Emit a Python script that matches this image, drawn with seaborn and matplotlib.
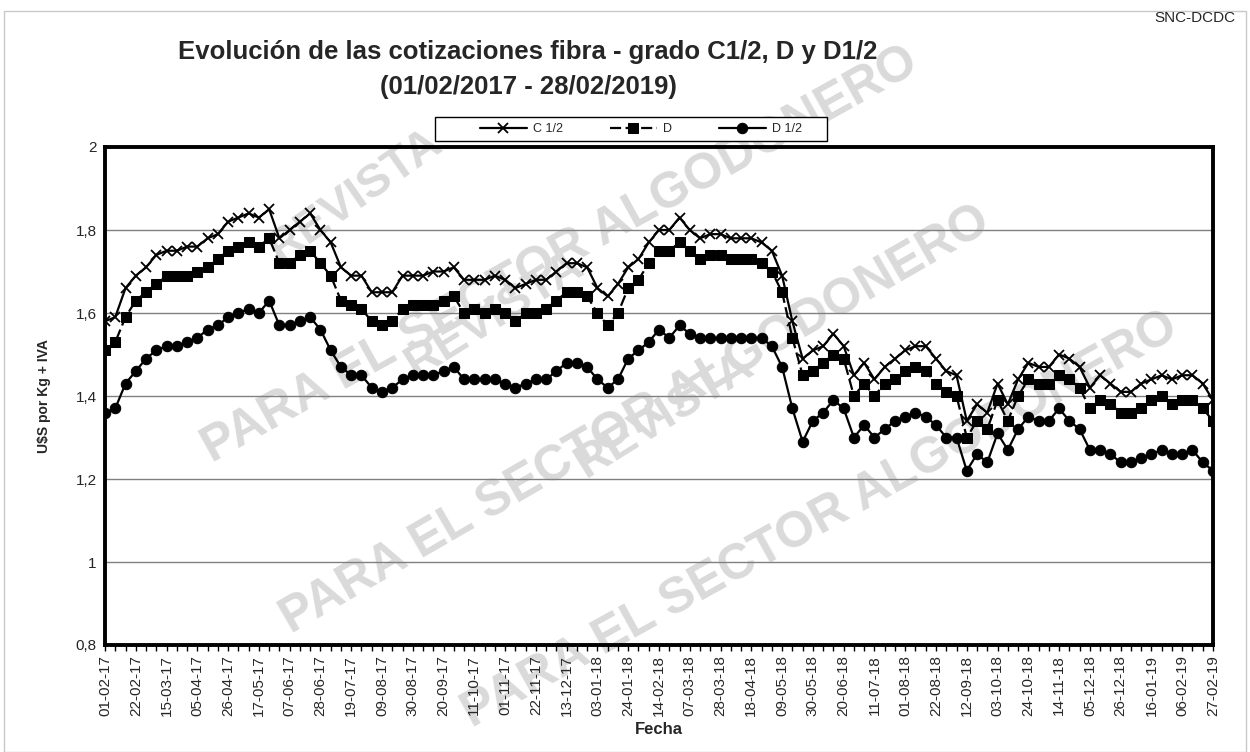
import numpy as np
import pandas as pd
import matplotlib
matplotlib.use("Agg")
import matplotlib.pyplot as plt
import seaborn as sns
from matplotlib.ticker import FuncFormatter, MultipleLocator
from matplotlib.patches import Rectangle

# ---------------- data ----------------
dates = pd.date_range("2017-02-01", "2019-02-27", freq="7D")
date_labels = [d.strftime("%d-%m-%y") for d in dates]

c_half = [1.58, 1.59, 1.66, 1.69, 1.71, 1.74, 1.75, 1.75, 1.76, 1.76, 1.78, 1.79, 1.82, 1.83, 1.84, 1.83, 1.85, 1.78,
          1.80, 1.82, 1.84, 1.80, 1.77, 1.71, 1.69, 1.69, 1.65, 1.65, 1.65, 1.69, 1.69, 1.69, 1.70, 1.70, 1.71, 1.68,
          1.68, 1.68, 1.69, 1.68, 1.66, 1.67, 1.68, 1.68, 1.70, 1.72, 1.72, 1.71, 1.66, 1.64, 1.67, 1.71, 1.73, 1.77,
          1.80, 1.80, 1.83, 1.80, 1.78, 1.79, 1.79, 1.78, 1.78, 1.78, 1.77, 1.75, 1.69, 1.58, 1.49, 1.51, 1.52, 1.55,
          1.52, 1.45, 1.48, 1.44, 1.47, 1.49, 1.51, 1.52, 1.52, 1.49, 1.46, 1.45, 1.34, 1.38, 1.36, 1.43, 1.38, 1.44,
          1.48, 1.47, 1.47, 1.50, 1.49, 1.47, 1.42, 1.45, 1.43, 1.41, 1.41, 1.43, 1.44, 1.45, 1.44, 1.45, 1.45, 1.43, 1.39]

d_grade = [1.51, 1.53, 1.59, 1.63, 1.65, 1.67, 1.69, 1.69, 1.69, 1.70, 1.71, 1.73, 1.75, 1.76, 1.77, 1.76, 1.78, 1.72,
           1.72, 1.74, 1.75, 1.72, 1.69, 1.63, 1.62, 1.61, 1.58, 1.57, 1.58, 1.61, 1.62, 1.62, 1.62, 1.63, 1.64, 1.60,
           1.61, 1.60, 1.61, 1.60, 1.58, 1.60, 1.60, 1.61, 1.63, 1.65, 1.65, 1.64, 1.60, 1.57, 1.60, 1.66, 1.68, 1.72,
           1.75, 1.75, 1.77, 1.75, 1.73, 1.74, 1.74, 1.73, 1.73, 1.73, 1.72, 1.70, 1.65, 1.54, 1.45, 1.46, 1.48, 1.50,
           1.49, 1.40, 1.43, 1.40, 1.43, 1.44, 1.46, 1.47, 1.46, 1.43, 1.41, 1.40, 1.30, 1.34, 1.32, 1.39, 1.34, 1.40,
           1.44, 1.43, 1.43, 1.45, 1.44, 1.42, 1.37, 1.39, 1.38, 1.36, 1.36, 1.37, 1.39, 1.40, 1.38, 1.39, 1.39, 1.37, 1.34]

d_half = [1.36, 1.37, 1.43, 1.46, 1.49, 1.51, 1.52, 1.52, 1.53, 1.54, 1.56, 1.57, 1.59, 1.60, 1.61, 1.60, 1.63, 1.57,
          1.57, 1.58, 1.59, 1.56, 1.51, 1.47, 1.45, 1.45, 1.42, 1.41, 1.42, 1.44, 1.45, 1.45, 1.45, 1.46, 1.47, 1.44,
          1.44, 1.44, 1.44, 1.43, 1.42, 1.43, 1.44, 1.44, 1.46, 1.48, 1.48, 1.47, 1.44, 1.42, 1.44, 1.49, 1.51, 1.53,
          1.56, 1.54, 1.57, 1.55, 1.54, 1.54, 1.54, 1.54, 1.54, 1.54, 1.54, 1.52, 1.47, 1.37, 1.29, 1.34, 1.36, 1.39,
          1.37, 1.30, 1.33, 1.30, 1.32, 1.34, 1.35, 1.36, 1.35, 1.33, 1.30, 1.30, 1.22, 1.26, 1.24, 1.31, 1.27, 1.32,
          1.35, 1.34, 1.34, 1.37, 1.34, 1.32, 1.27, 1.27, 1.26, 1.24, 1.24, 1.25, 1.26, 1.27, 1.26, 1.26, 1.27, 1.24, 1.22]

series_names = ["C 1/2", "D", "D 1/2"]
y_ticks = [0.8, 1.0, 1.2, 1.4, 1.6, 1.8, 2.0]

title_text = "Evolución de las cotizaciones fibra - grado C1/2, D y D1/2\n(01/02/2017 - 28/02/2019)"
wm_top = "REVISTA"
wm_bottom = "PARA EL SECTOR ALGODONERO"

# ---------------- style ----------------
sns.set_theme(style="white")
plt.rcParams["font.family"] = ["Liberation Sans", "DejaVu Sans"]

W, H = 1250, 752
fig = plt.figure(figsize=(12.5, 7.52), dpi=100)
ax = fig.add_axes([105 / W, 1 - 645 / H, 1108 / W, 498 / H])
ax.set_zorder(1)
ax.set_facecolor("none")

idx = np.arange(len(dates))
df = pd.DataFrame({"idx": idx, series_names[0]: c_half, series_names[1]: d_grade, series_names[2]: d_half})

# watermark (light stippled grey text in the reference), behind the chart
wm_style = dict(color="#dadada", fontweight="bold", ha="center", va="center",
                zorder=-1, transform=fig.transFigure)
for (xr, yr, rot) in [(355, 195, 35), (495, 315, 32), (665, 415, 32)]:
    fig.text(xr / W, 1 - yr / H, wm_top, rotation=rot, fontsize=34, **wm_style)
for (xr, yr, rot) in [(560, 255, 29), (635, 420, 30), (820, 520, 29)]:
    fig.text(xr / W, 1 - yr / H, wm_bottom, rotation=rot, fontsize=36, **wm_style)

sns.lineplot(data=df, x="idx", y=series_names[0], ax=ax, color="black", lw=1.6,
             marker="x", markersize=7.5, markeredgewidth=1.3, markeredgecolor="black", label=series_names[0])
sns.lineplot(data=df, x="idx", y=series_names[1], ax=ax, color="black", lw=1.6, linestyle=(0, (5, 2)),
             marker="s", markersize=7, markeredgecolor="black", markerfacecolor="black", label=series_names[1])
sns.lineplot(data=df, x="idx", y=series_names[2], ax=ax, color="black", lw=1.6,
             marker="o", markersize=7.5, markeredgecolor="black", markerfacecolor="black", label=series_names[2])

ax.set_xlim(0, len(dates) - 1)
ax.set_ylim(0.8, 2.0)
ax.set_yticks(y_ticks)
ax.yaxis.set_major_formatter(FuncFormatter(lambda v, p: f"{round(v, 1):g}".replace(".", ",")))
ax.grid(axis="y", color="#808080", lw=1)
ax.grid(axis="x", visible=False)

ax.set_xticks(idx[::3])
ax.set_xticklabels(date_labels[::3], rotation=90, fontsize=11)
ax.xaxis.set_minor_locator(MultipleLocator(1))
ax.tick_params(axis="x", which="both", direction="out", length=4, width=1, color="black", bottom=True)
ax.tick_params(axis="y", labelsize=11, length=0, pad=6)

for s in ax.spines.values():
    s.set_visible(True)
    s.set_color("black")
    s.set_linewidth(2.8)

ax.set_xlabel("Fecha", fontsize=12, fontweight="bold", labelpad=4)
ax.set_ylabel(r"U\$S por Kg + IVA", fontsize=10, fontweight="bold", labelpad=18)

# legend: entries without own frame, plus a box drawn like the reference's
leg = ax.legend(ncol=3, loc="center", bbox_to_anchor=(641 / W, 1 - 129 / H),
                bbox_transform=fig.transFigure, frameon=False, fontsize=9, handlelength=3.8,
                columnspacing=3.7, handletextpad=0.5, borderpad=0.2)
leg.set_zorder(6)
ax.add_patch(Rectangle((435 / W, 1 - 141 / H), 392 / W, 24 / H, transform=fig.transFigure,
                       facecolor="white", edgecolor="black", lw=1, zorder=5, clip_on=False))

fig.text(528 / W, 1 - 69.5 / H, title_text, ha="center", va="center", fontsize=18.5,
         fontweight="bold", linespacing=1.6)
fig.text(1235 / W, 1 - 18 / H, "SNC-DCDC", ha="right", va="center", fontsize=11)

fig.patches.append(Rectangle((0.003, 0.0), 0.994, 0.986, transform=fig.transFigure,
                             fill=False, edgecolor="#c8c8c8", lw=1))

fig.savefig("out.png", dpi=100)
